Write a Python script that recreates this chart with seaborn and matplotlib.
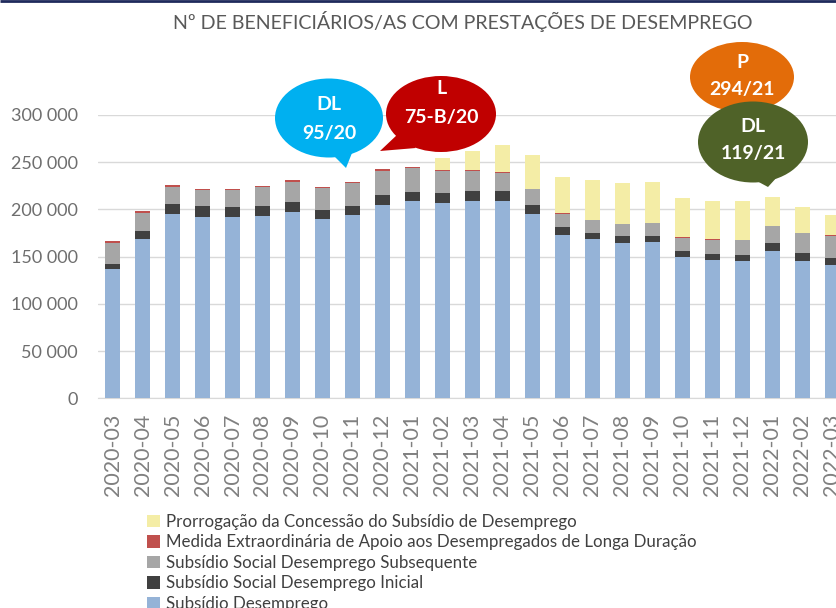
import numpy as np
import pandas as pd
import matplotlib
matplotlib.use("Agg")
import matplotlib.pyplot as plt
import seaborn as sns
from matplotlib.patches import Ellipse, Polygon, Patch

months = ['2020-03', '2020-04', '2020-05', '2020-06', '2020-07', '2020-08', '2020-09',
          '2020-10', '2020-11', '2020-12', '2021-01', '2021-02', '2021-03', '2021-04',
          '2021-05', '2021-06', '2021-07', '2021-08', '2021-09', '2021-10', '2021-11',
          '2021-12', '2022-01', '2022-02', '2022-03']

subsidio_desemprego = [136600, 169000, 195200, 192300, 192000, 193000, 196900, 189900, 193700,
                       205000, 208600, 207200, 208600, 208600, 195500, 173300, 168300, 164400,
                       165500, 150000, 146800, 145000, 156300, 145900, 141500]
ssd_inicial = [6000, 8200, 10200, 11300, 10900, 11000, 11000, 9800, 9900, 10600, 10200, 10500,
               11300, 11300, 9500, 7700, 7100, 7100, 6700, 6000, 6400, 7100, 8200, 8000, 7100]
ssd_subsequente = [22200, 19400, 18700, 17000, 18000, 19700, 21100, 22600, 24400, 25100, 25400,
                   23300, 21100, 19000, 16600, 14500, 13000, 12700, 13400, 14100, 14800, 15200,
                   17600, 21100, 23600]
medida_longa_duracao = [1400, 1700, 1400, 1000, 1100, 1100, 2100, 1400, 1400, 1700, 700, 1000,
                        300, 300, 300, 200, 300, 200, 200, 200, 200, 200, 300, 200, 200]
prorrogacao = [0, 0, 0, 0, 0, 0, 0, 0, 0, 0, 0, 12800, 20900, 29000, 35700, 38600, 42800, 43600,
               43600, 41400, 41100, 41400, 31100, 27000, 21300]

series_names = ['Subsídio Desemprego',
                'Subsídio Social Desemprego Inicial',
                'Subsídio Social Desemprego Subsequente',
                'Medida Extraordinária de Apoio aos Desempregados de Longa Duração',
                'Prorrogação da Concessão do Subsídio de Desemprego']
series_colors = ['#95B3D7', '#404040', '#A6A6A6', '#C0504D', '#F4EDA6']

df = pd.DataFrame({
    'mes': months,
    series_names[0]: subsidio_desemprego,
    series_names[1]: ssd_inicial,
    series_names[2]: ssd_subsequente,
    series_names[3]: medida_longa_duracao,
    series_names[4]: prorrogacao,
})
cum = df[series_names].cumsum(axis=1)

sns.set_style("white")
plt.rcParams['font.family'] = ['Lato', 'DejaVu Sans']

fig = plt.figure(figsize=(8.37, 6.08), dpi=100)
ax = fig.add_axes([0.1165, 0.3449, 0.896, 0.466])

# stacked bars: draw tallest cumulative first, then overlay lower ones
for name, color in reversed(list(zip(series_names, series_colors))):
    sns.barplot(x=df['mes'], y=cum[name], color=color, saturation=1, width=0.53,
                linewidth=0, ax=ax, zorder=3)

ax.set_ylim(0, 300000)
ax.set_xlim(-0.5, len(months) - 0.5)
ax.set_yticks(np.arange(0, 300001, 50000))
ax.set_yticklabels([f'{v:,}'.replace(',', ' ') for v in range(0, 300001, 50000)],
                   fontsize=13, color='#6E6E6E')
ax.tick_params(axis='y', length=0, pad=14)
ax.tick_params(axis='x', length=0, pad=11, labelsize=15.5, labelcolor='#808080',
               labelrotation=90)
ax.set_xlabel('')
ax.set_ylabel('')
ax.grid(axis='y', color='#D9D9D9', linewidth=1, zorder=0)
for side in ['top', 'right', 'left']:
    ax.spines[side].set_visible(False)
ax.spines['bottom'].set_color('#D9D9D9')
ax.set_axisbelow(True)

fig.text(463 / 837, 1 - 21 / 608, 'Nº DE BENEFICIÁRIOS/AS COM PRESTAÇÕES DE DESEMPREGO',
         ha='center', va='center', fontsize=14.1, color='#595959')

handles = [Patch(facecolor=c, edgecolor='none') for c in series_colors]
fig.legend(handles[::-1], series_names[::-1], loc='upper left',
           bbox_to_anchor=(147 / 837, 1 - 514 / 608), frameon=False,
           fontsize=12.2, labelcolor='#404040', handlelength=0.75, handleheight=0.75,
           handletextpad=0.35, labelspacing=0.26, borderaxespad=0, borderpad=0)

# callouts in pixel coordinates
oax = fig.add_axes([0, 0, 1, 1], zorder=10)
oax.set_xlim(0, 837)
oax.set_ylim(608, 0)
oax.axis('off')

callouts = [
    # (centre, w, h, colour, tail points, line1, line2, text y's)
    ((742, 77), 104, 70, '#E36C09', None, 'P', '294/21', (62, 90)),
    ((329, 118), 108, 79, '#00B0F0', [(330, 152), (354, 148), (346, 168)], 'DL', '95/20', (105, 133)),
    ((441, 114), 110, 76, '#C00000', [(398, 134), (416, 148), (380, 151)], 'L', '75-B/20', (89, 118)),
    ((753, 142), 110, 81, '#4F6228', [(755, 180), (778, 176), (768, 187)], 'DL', '119/21', (126, 153)),
]
for (cx, cy), w, h, col, tail, t1, t2, (y1, y2) in callouts:
    oax.add_patch(Ellipse((cx, cy), w, h, facecolor=col, edgecolor='none'))
    if tail:
        oax.add_patch(Polygon(tail, closed=True, facecolor=col, edgecolor='none'))
    oax.text(cx, y1, t1, ha='center', va='center', color='white', fontsize=14, fontweight='bold')
    oax.text(cx, y2, t2, ha='center', va='center', color='white', fontsize=14, fontweight='bold')

# thin dark rule along the top edge
oax.plot([0, 837], [0.8, 0.8], color='#1F2A5C', linewidth=2, solid_capstyle='butt')

fig.savefig('out.png', dpi=100)
